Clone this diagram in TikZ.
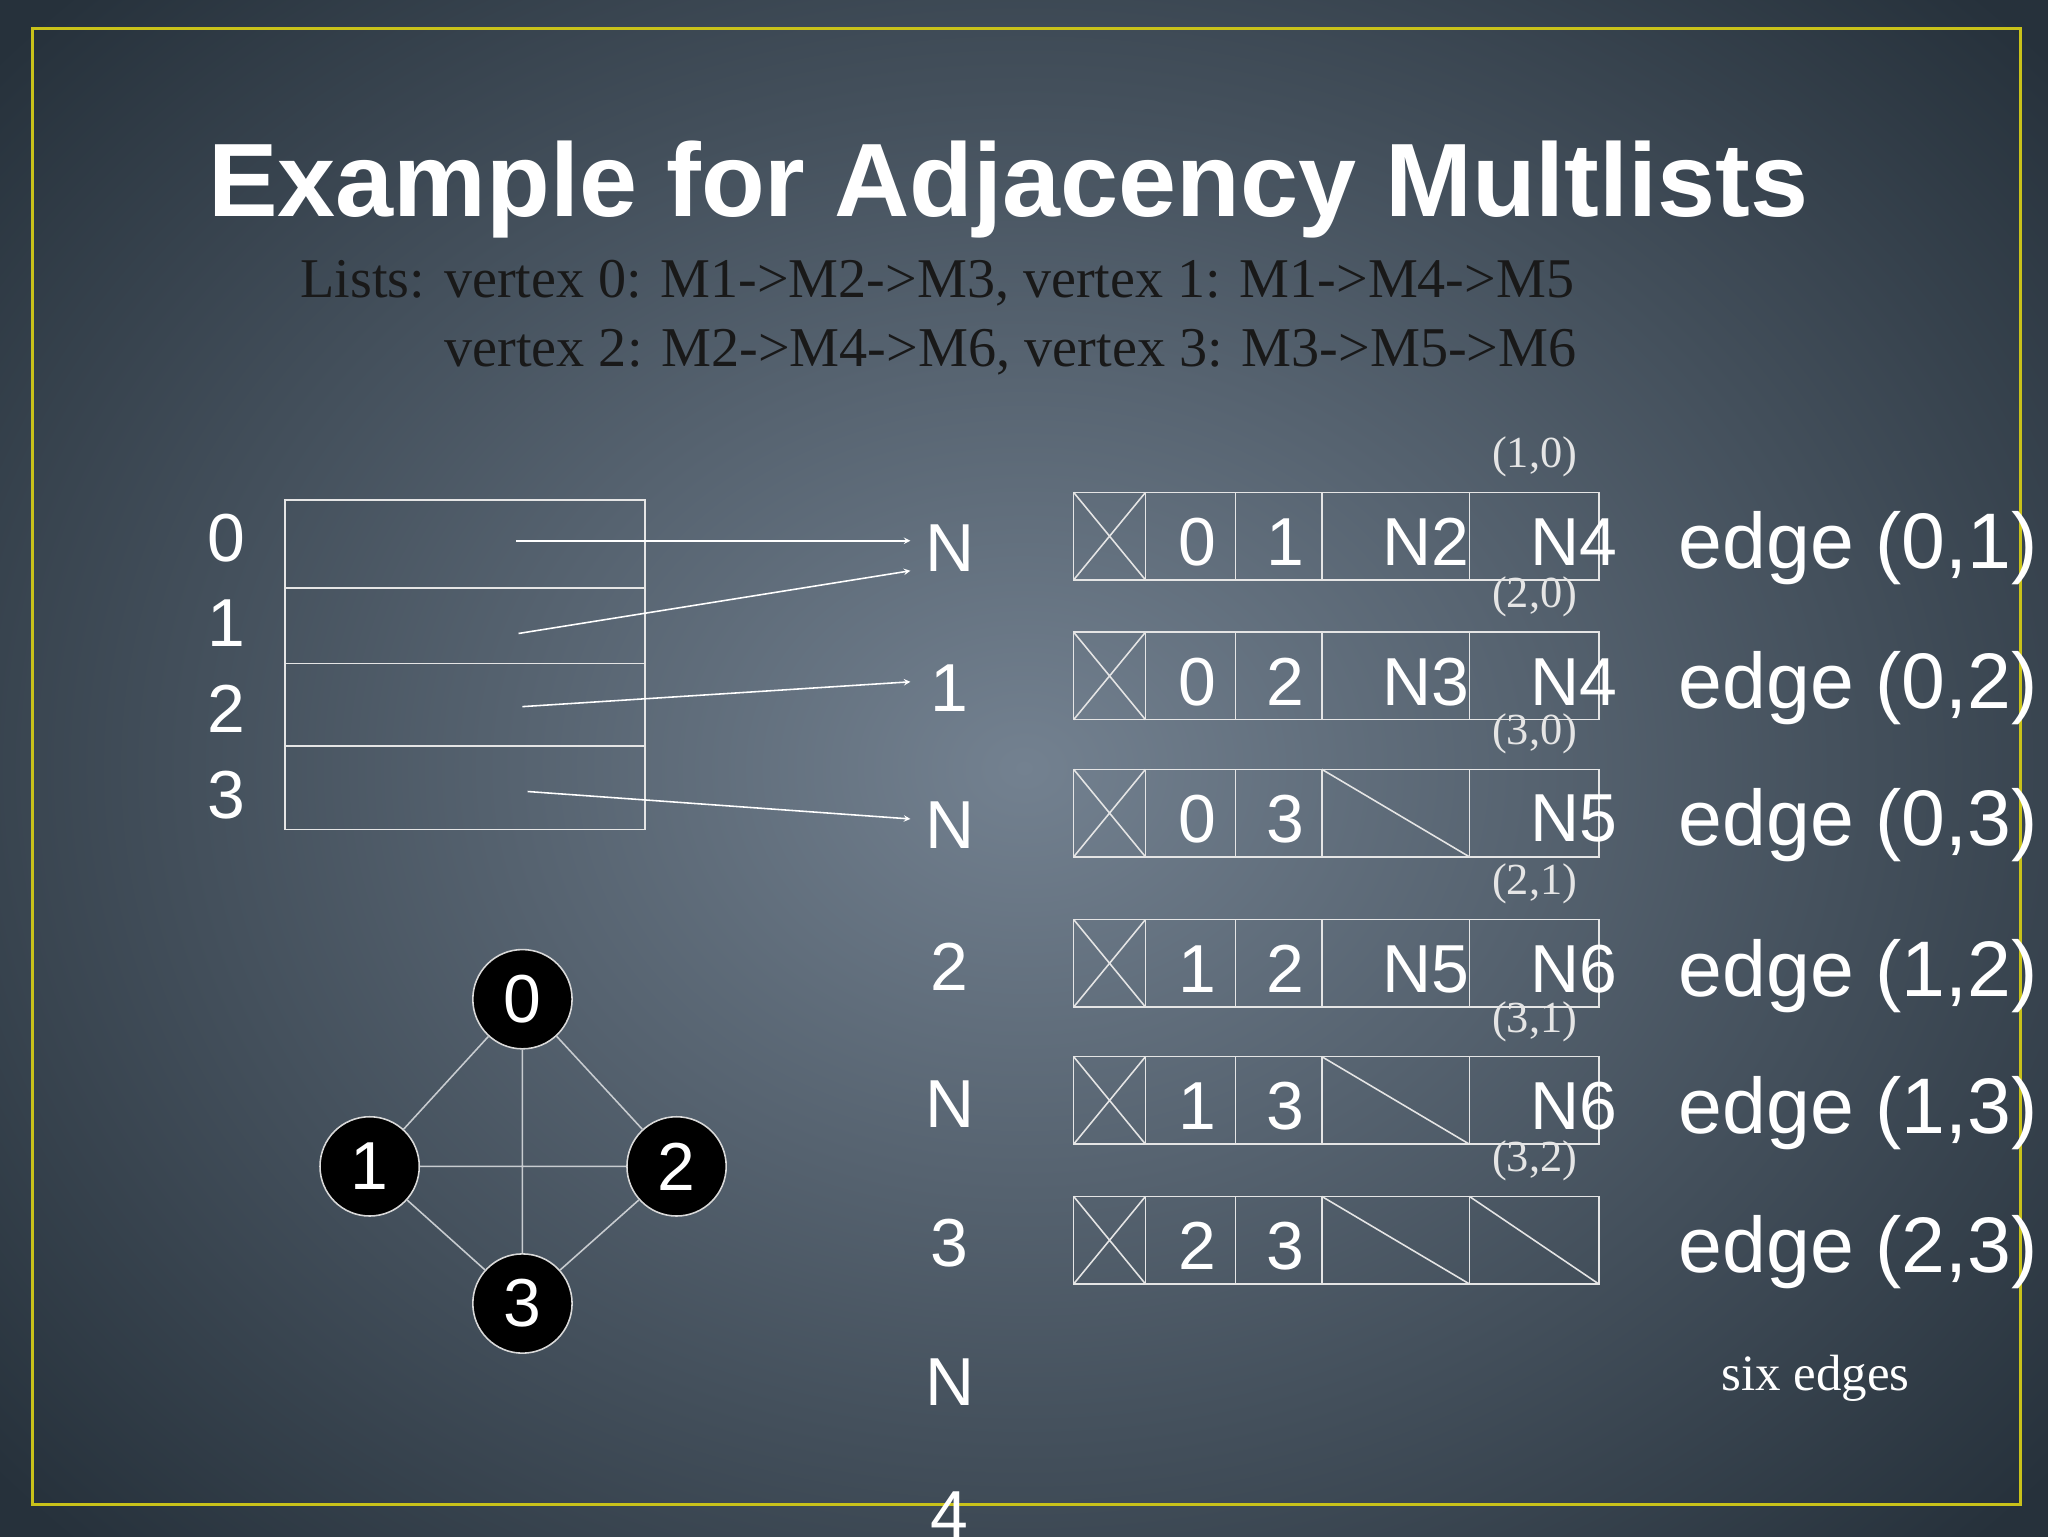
\documentclass[tikz,border=0pt]{standalone}
\usepackage{fontspec}
\setmainfont{Liberation Serif}
\setsansfont{Liberation Sans}
\definecolor{bgin}{HTML}{738190}
\definecolor{bgout}{HTML}{26313B}
\definecolor{frame}{HTML}{C9C21A}
\definecolor{gline}{HTML}{C8CCD0}
\tikzset{
 big/.style={text=white,font=\sffamily\fontsize{52}{52}\selectfont,inner sep=0pt},
 ser/.style={text=black!90,font=\rmfamily\fontsize{39}{39}\selectfont,inner sep=0pt},
 small/.style={text=white!90!black,font=\rmfamily\fontsize{34}{34}\selectfont,inner sep=0pt},
 wl/.style={draw=white!90!black,line width=1.2pt},
 vtx/.style={circle,fill=black,draw=white!85!black,line width=1.2pt,minimum size=76pt,inner sep=0pt,text=white,font=\sffamily\fontsize{52}{52}\selectfont},
 arr/.style={draw=white,line width=1.2pt,-stealth}
}
\begin{document}
\begin{tikzpicture}[x=1pt,y=-1pt]
\useasboundingbox (0,0) rectangle (1568,1176);
\shade[inner color=bgin,outer color=bgout] (-250,-250) rectangle (1818,1426);
\draw[frame,line width=2.5pt] (25,22) rectangle (1547,1152);
\node[text=white,font=\sffamily\bfseries\fontsize{70}{70}\selectfont] (title) at (772,145) {\resizebox{1225pt}{!}{Example for Adjacency Multlists}};
\node[ser,anchor=west] (l1) at (230,217) {\resizebox{975pt}{!}{Lists: vertex 0: M1->M2->M3, vertex 1: M1->M4->M5}};
\node[ser,anchor=west] (l2) at (340,270) {\resizebox{867pt}{!}{vertex 2: M2->M4->M6, vertex 3: M3->M5->M6}};
% left table
\draw[wl] (218,383) rectangle (494,635);
\foreach \y in {450,508,571} \draw[wl] (218,\y) -- (494,\y);
\foreach \t/\y in {0/412,1/477,2/543,3/609} \node[big] (v\t) at (173,\y) {\t};
\foreach \t/\y [count=\i] in {N/420,1/527,N/632,2/740,N/845,3/952,N/1058,4/1160} \node[big] (c\i) at (727,\y) {\t};
\coordinate (s0) at (395,414); \coordinate (s1) at (397,485);
\coordinate (s2) at (400,541); \coordinate (s3) at (404,606);
\coordinate (t0) at (697,414); \coordinate (t1) at (697,437);
\coordinate (t2) at (697,522); \coordinate (t3) at (697,627);
\draw[arr] (s0) -- (t0);
\draw[arr] (s1) -- (t1);
\draw[arr] (s2) -- (t2);
\draw[arr] (s3) -- (t3);
% multilist rows
\foreach \top/\lab/\a/\b/\c/\d/\na/\nb/\e [count=\r] in
 {377/{(1,0)}/0/1/N2/N4/0/0/{(0,1)},
  484/{(2,0)}/0/2/N3/N4/0/0/{(0,2)},
  589/{(3,0)}/0/3//N5/1/0/{(0,3)},
  704/{(2,1)}/1/2/N5/N6/0/0/{(1,2)},
  809/{(3,1)}/1/3//N6/1/0/{(1,3)},
  916/{(3,2)}/2/3///1/1/{(2,3)}}{
  \pgfmathsetmacro\bot{\top+67}
  \draw[wl] (822,\top) rectangle (1224,\bot);
  \foreach \x in {877,946,1012,1125} \draw[wl] (\x,\top) -- (\x,\bot);
  \draw[wl] (822,\top) -- (877,\bot) (877,\top) -- (822,\bot);
  \ifnum\na=1 \draw[wl] (1012,\top) -- (1125,\bot); \fi
  \ifnum\nb=1 \draw[wl] (1125,\top) -- (1224,\bot); \fi
  \node[small] (lab\r) at (1175,\top-27) {\lab};
  \node[big] (a\r) at (917,\top+38) {\a};
  \node[big] (b\r) at (984,\top+38) {\b};
  \node[big] (c\r x) at (1092,\top+38) {\c};
  \node[big] (d\r) at (1205,\top+38) {\d};
  \node[big,anchor=west] (e\r) at (1285,\top+43) {\resizebox{275pt}{!}{edge \e}};
}
\node[text=white,font=\rmfamily\fontsize{39}{39}\selectfont] (six) at (1390,1055) {six edges};
% graph
\node[vtx] (g0) at (400,765) {0};
\node[vtx] (g1) at (283,893) {1};
\node[vtx] (g2) at (518,893) {2};
\node[vtx] (g3) at (400,998) {3};
\draw[gline,line width=1.2pt] (g0)--(g1) (g0)--(g2) (g1)--(g3) (g2)--(g3) (g1)--(g2) (g0)--(g3);
\end{tikzpicture}
\end{document}
